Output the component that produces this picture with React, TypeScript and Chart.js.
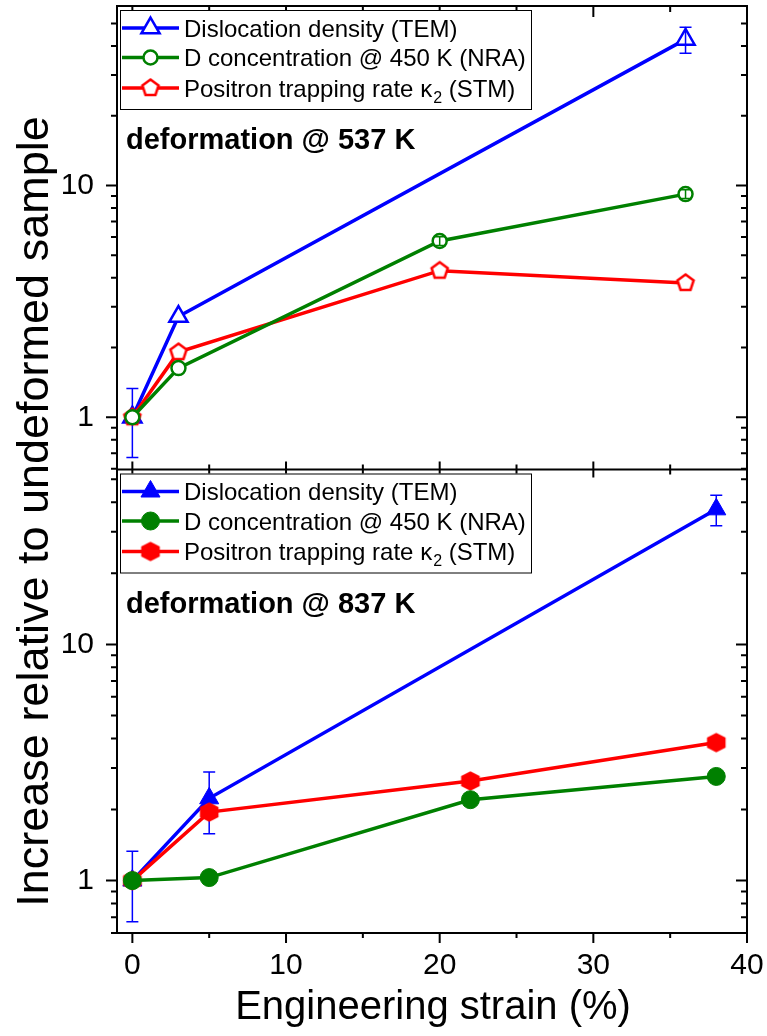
import React, { useEffect, useRef } from 'react';
import { Chart, registerables } from 'chart.js';

Chart.register(...registerables);

// ---------- data ----------
const xTickValues = [0, 10, 20, 30, 40];
const xMinorValues = [5, 15, 25, 35];
const yTickValues = [1, 10];
const yMinorValues = [0.6, 0.7, 0.8, 0.9, 2, 3, 4, 5, 6, 7, 8, 9, 20, 30, 40, 50];

const legendMain = ['Dislocation density (TEM)', 'D concentration @ 450 K (NRA)', 'Positron trapping rate \u03BA'];
const legendSub = ['', '', '2'];
const legendSuffix = ['', '', ' (STM)'];
const panelLabels = ['deformation @ 537 K', 'deformation @ 837 K'];
const xTitle = 'Engineering strain (%)';
const yTitle = 'Increase relative to undeformed sample';

// top panel: deformation @ 537 K
const topStrainTEM = [0, 3, 36];
const topTEM = [1, 2.72, 42.7];
const topTEMErr = [0.33, 0, 5.5];
const topStrain = [0, 3, 20, 36];
const topNRA = [1, 1.63, 5.76, 9.18];
const topNRAErr = [0, 0, 0.25, 0.4];
const topSTM = [1, 1.91, 4.29, 3.8];

// bottom panel: deformation @ 837 K
const botStrainTEM = [0, 5, 38];
const botTEM = [1, 2.23, 37.3];
const botTEMErr = [0.33, 0.65, 5.5];
const botStrain = [0, 5, 22, 38];
const botNRA = [1, 1.03, 2.2, 2.76];
const botSTM = [1, 1.95, 2.64, 3.84];

const BLUE = '#0000ff';
const GREEN = '#008000';
const RED = '#ff0000';
const FONT = "'Liberation Sans', Arial, Helvetica, sans-serif";

function makePentagon(color: string): HTMLCanvasElement {
  const c = document.createElement('canvas');
  c.width = 26; c.height = 26;
  const ctx = c.getContext('2d')!;
  ctx.translate(13, 13);
  ctx.beginPath();
  const R = 8.5;
  for (let k = 0; k < 5; k++) {
    const a = -Math.PI / 2 + (k * 2 * Math.PI) / 5;
    const px = R * Math.cos(a), py = R * Math.sin(a);
    if (k === 0) ctx.moveTo(px, py); else ctx.lineTo(px, py);
  }
  ctx.closePath();
  ctx.fillStyle = '#ffffff';
  ctx.fill();
  ctx.lineWidth = 2.5;
  ctx.strokeStyle = color;
  ctx.stroke();
  return c;
}

function makeHexagon(color: string): HTMLCanvasElement {
  const c = document.createElement('canvas');
  c.width = 24; c.height = 24;
  const ctx = c.getContext('2d')!;
  ctx.translate(12, 12);
  const pts = [[0, -9.7], [9.3, -4.9], [9.3, 4.9], [0, 9.7], [-9.3, 4.9], [-9.3, -4.9]];
  ctx.beginPath();
  pts.forEach(([px, py], k) => (k === 0 ? ctx.moveTo(px, py) : ctx.lineTo(px, py)));
  ctx.closePath();
  ctx.fillStyle = color;
  ctx.fill();
  return c;
}

function drawMarker(ctx: CanvasRenderingContext2D, ds: any, x: number, y: number) {
  const style = ds.pointStyle;
  ctx.save();
  if (style && typeof style === 'object') {
    ctx.drawImage(style, x - style.width / 2, y - style.height / 2);
    ctx.restore();
    return;
  }
  const r = ds.pointRadius;
  ctx.beginPath();
  if (style === 'triangle') {
    let rad = 0;
    for (let k = 0; k < 3; k++) {
      const px = x + Math.sin(rad) * r, py = y - Math.cos(rad) * r;
      if (k === 0) ctx.moveTo(px, py); else ctx.lineTo(px, py);
      rad += (2 * Math.PI) / 3;
    }
    ctx.closePath();
  } else {
    ctx.arc(x, y, r, 0, Math.PI * 2);
  }
  ctx.fillStyle = ds.pointBackgroundColor;
  ctx.fill();
  ctx.lineWidth = ds.pointBorderWidth;
  ctx.strokeStyle = ds.pointBorderColor;
  ctx.stroke();
  ctx.restore();
}

const noPad = (s: any) => {
  s.paddingTop = 0; s.paddingBottom = 0; s.paddingLeft = 0; s.paddingRight = 0;
};

const decorPlugin = {
  id: 'decor',
  afterDatasetDraw(chart: any, args: any) {
    const ds = chart.data.datasets[args.index];
    if (!ds.errorBars) return;
    const ctx = chart.ctx as CanvasRenderingContext2D;
    const ys = chart.scales[ds.yAxisID];
    ctx.save();
    ctx.strokeStyle = ds.borderColor;
    ctx.lineWidth = 1.5;
    args.meta.data.forEach((pt: any, i: number) => {
      const e = ds.errorBars[i];
      if (!e) return;
      const v = ds.data[i].y;
      const x = pt.x;
      const y1 = ys.getPixelForValue(v + e);
      const y2 = ys.getPixelForValue(v - e);
      ctx.beginPath();
      ctx.moveTo(x, y1); ctx.lineTo(x, y2);
      ctx.moveTo(x - 6, y1); ctx.lineTo(x + 6, y1);
      ctx.moveTo(x - 6, y2); ctx.lineTo(x + 6, y2);
      ctx.stroke();
    });
    ctx.restore();
  },
  afterDraw(chart: any) {
    const ctx = chart.ctx as CanvasRenderingContext2D;
    const { left, right, top, bottom } = chart.chartArea;
    const xs = chart.scales.x;
    const yT = chart.scales.yTop;
    const yB = chart.scales.yBot;
    const mid = yT.bottom;
    ctx.save();
    ctx.strokeStyle = '#000';
    ctx.lineWidth = 2;
    ctx.strokeRect(left, top, right - left, bottom - top);
    ctx.beginPath();
    ctx.moveTo(left, mid); ctx.lineTo(right, mid);
    ctx.stroke();

    // x ticks
    ctx.beginPath();
    const xt = (v: number, major: boolean) => {
      const px = xs.getPixelForValue(v);
      const L = major ? 10 : 5;
      ctx.moveTo(px, bottom); ctx.lineTo(px, bottom + L);
      ctx.moveTo(px, top); ctx.lineTo(px, top + (major ? 11 : 6));
      ctx.moveTo(px, mid - (major ? 8 : 5)); ctx.lineTo(px, mid + (major ? 8 : 5));
    };
    xTickValues.forEach(v => xt(v, true));
    xMinorValues.forEach(v => xt(v, false));
    // y ticks
    [yT, yB].forEach((s: any) => {
      const yt = (v: number, major: boolean) => {
        if (v < s.min || v > s.max) return;
        const py = s.getPixelForValue(v);
        const L = major ? 11 : 6;
        ctx.moveTo(left - L, py); ctx.lineTo(left, py);
        ctx.moveTo(right - L, py); ctx.lineTo(right, py);
      };
      yTickValues.forEach(v => yt(v, true));
      yMinorValues.forEach(v => yt(v, false));
    });
    ctx.stroke();

    // legends + panel labels
    [yT, yB].forEach((s: any, p: number) => {
      const dsList = chart.data.datasets.filter((d: any) => d.yAxisID === (p === 0 ? 'yTop' : 'yBot'));
      const bx = left + 3, by = s.top + 4, bw = 411, bh = 99;
      ctx.fillStyle = '#fff';
      ctx.fillRect(bx, by, bw, bh);
      ctx.lineWidth = 1;
      ctx.strokeStyle = '#000';
      ctx.strokeRect(bx + 0.5, by + 0.5, bw, bh);
      const rows = [18, 47.5, 78];
      dsList.forEach((d: any) => {
        const i = d.legendIndex;
        const ry = by + rows[i];
        ctx.strokeStyle = d.borderColor;
        ctx.lineWidth = 3.5;
        ctx.beginPath();
        ctx.moveTo(bx + 2, ry); ctx.lineTo(bx + 59, ry);
        ctx.stroke();
        drawMarker(ctx, d, bx + 30.5, ry);
        ctx.fillStyle = '#000';
        ctx.font = `24px ${FONT}`;
        ctx.textBaseline = 'alphabetic';
        ctx.textAlign = 'left';
        let tx = bx + 64;
        const base = ry + 8.5;
        ctx.fillText(legendMain[i], tx, base);
        tx += ctx.measureText(legendMain[i]).width;
        if (legendSub[i]) {
          ctx.font = `16px ${FONT}`;
          ctx.fillText(legendSub[i], tx + 1, base + 6);
          tx += ctx.measureText(legendSub[i]).width + 1;
          ctx.font = `24px ${FONT}`;
          ctx.fillText(legendSuffix[i], tx, base);
        }
      });
      ctx.fillStyle = '#000';
      ctx.font = `bold 29px ${FONT}`;
      ctx.textAlign = 'left';
      ctx.textBaseline = 'alphabetic';
      ctx.fillText(panelLabels[p], left + 9, s.top + 143);
    });

    // axis titles
    ctx.fillStyle = '#000';
    ctx.font = `40px ${FONT}`;
    ctx.textAlign = 'center';
    ctx.textBaseline = 'alphabetic';
    ctx.fillText(xTitle, 433, 1019);
    ctx.save();
    ctx.translate(48, 511.5);
    ctx.rotate(-Math.PI / 2);
    ctx.font = `45px ${FONT}`;
    ctx.fillText(yTitle, 0, 0);
    ctx.restore();
    ctx.restore();
  },
};

export default function App() {
  const ref = useRef<HTMLCanvasElement>(null);
  useEffect(() => {
    const canvas = ref.current!;
    const pent = makePentagon(RED);
    const hex = makeHexagon(RED);
    const pts = (xs: number[], ys: number[]) => xs.map((x, i) => ({ x, y: ys[i] }));
    const base = { showLine: true, borderWidth: 3.5, tension: 0, fill: false };
    const datasets: any[] = [
      { ...base, legendIndex: 0, data: pts(topStrainTEM, topTEM), yAxisID: 'yTop', borderColor: BLUE, pointStyle: 'triangle', pointRadius: 10.5, pointBorderWidth: 2.5, pointBackgroundColor: '#ffffff', pointBorderColor: BLUE, errorBars: topTEMErr, order: 2 },
      { ...base, legendIndex: 1, data: pts(topStrain, topNRA), yAxisID: 'yTop', borderColor: GREEN, pointStyle: 'circle', pointRadius: 7, pointBorderWidth: 2.5, pointBackgroundColor: '#ffffff', pointBorderColor: GREEN, errorBars: topNRAErr, order: 0 },
      { ...base, legendIndex: 2, data: pts(topStrain, topSTM), yAxisID: 'yTop', borderColor: RED, pointStyle: pent, pointRadius: 9, pointBorderWidth: 0, pointBackgroundColor: '#ffffff', pointBorderColor: RED, order: 1 },
      { ...base, legendIndex: 0, data: pts(botStrainTEM, botTEM), yAxisID: 'yBot', borderColor: BLUE, pointStyle: 'triangle', pointRadius: 11, pointBorderWidth: 1, pointBackgroundColor: BLUE, pointBorderColor: BLUE, errorBars: botTEMErr, order: 2 },
      { ...base, legendIndex: 1, data: pts(botStrain, botNRA), yAxisID: 'yBot', borderColor: GREEN, pointStyle: 'circle', pointRadius: 9, pointBorderWidth: 1, pointBackgroundColor: GREEN, pointBorderColor: GREEN, order: 0 },
      { ...base, legendIndex: 2, data: pts(botStrain, botSTM), yAxisID: 'yBot', borderColor: RED, pointStyle: hex, pointRadius: 9, pointBorderWidth: 0, pointBackgroundColor: RED, pointBorderColor: RED, order: 1 },
    ];
    const tickFont = { family: FONT, size: 30 };
    const yAxis = (min: number, max: number) => ({
      type: 'logarithmic',
      position: 'left',
      stack: 'panels',
      stackWeight: 1,
      min,
      max,
      afterBuildTicks: (s: any) => {
        s.ticks = yTickValues.filter(v => v >= min && v <= max).map(v => ({ value: v }));
      },
      afterFit: (s: any) => { s.width = 117; noPad(s); },
      grid: { display: false, drawTicks: false },
      border: { display: false },
      ticks: { autoSkip: false, padding: 23, color: '#000', font: tickFont, callback: (v: any) => String(v) },
    });
    const chart = new Chart(canvas, {
      type: 'line',
      data: { datasets },
      plugins: [decorPlugin],
      options: {
        animation: false,
        responsive: false,
        layout: { autoPadding: false, padding: { top: 6, right: 20, left: 0, bottom: 0 } },
        plugins: { legend: { display: false }, tooltip: { enabled: false } },
        scales: {
          x: {
            type: 'linear',
            min: -1,
            max: 40,
            afterBuildTicks: (s: any) => { s.ticks = xTickValues.map(v => ({ value: v })); },
            afterFit: (s: any) => { s.height = 103; noPad(s); },
            grid: { display: false, drawTicks: false },
            border: { display: false },
            ticks: { autoSkip: false, maxRotation: 0, padding: 15, color: '#000', font: tickFont },
          },
          yBot: yAxis(0.613, 55) as any,
          yTop: yAxis(0.595, 59.5) as any,
        },
      } as any,
    });
    return () => chart.destroy();
  }, []);
  return (
    <div style={{ position: 'absolute', left: 0, top: 0, width: 767, height: 1036, background: '#fff' }}>
      <canvas ref={ref} width={767} height={1036} />
    </div>
  );
}
